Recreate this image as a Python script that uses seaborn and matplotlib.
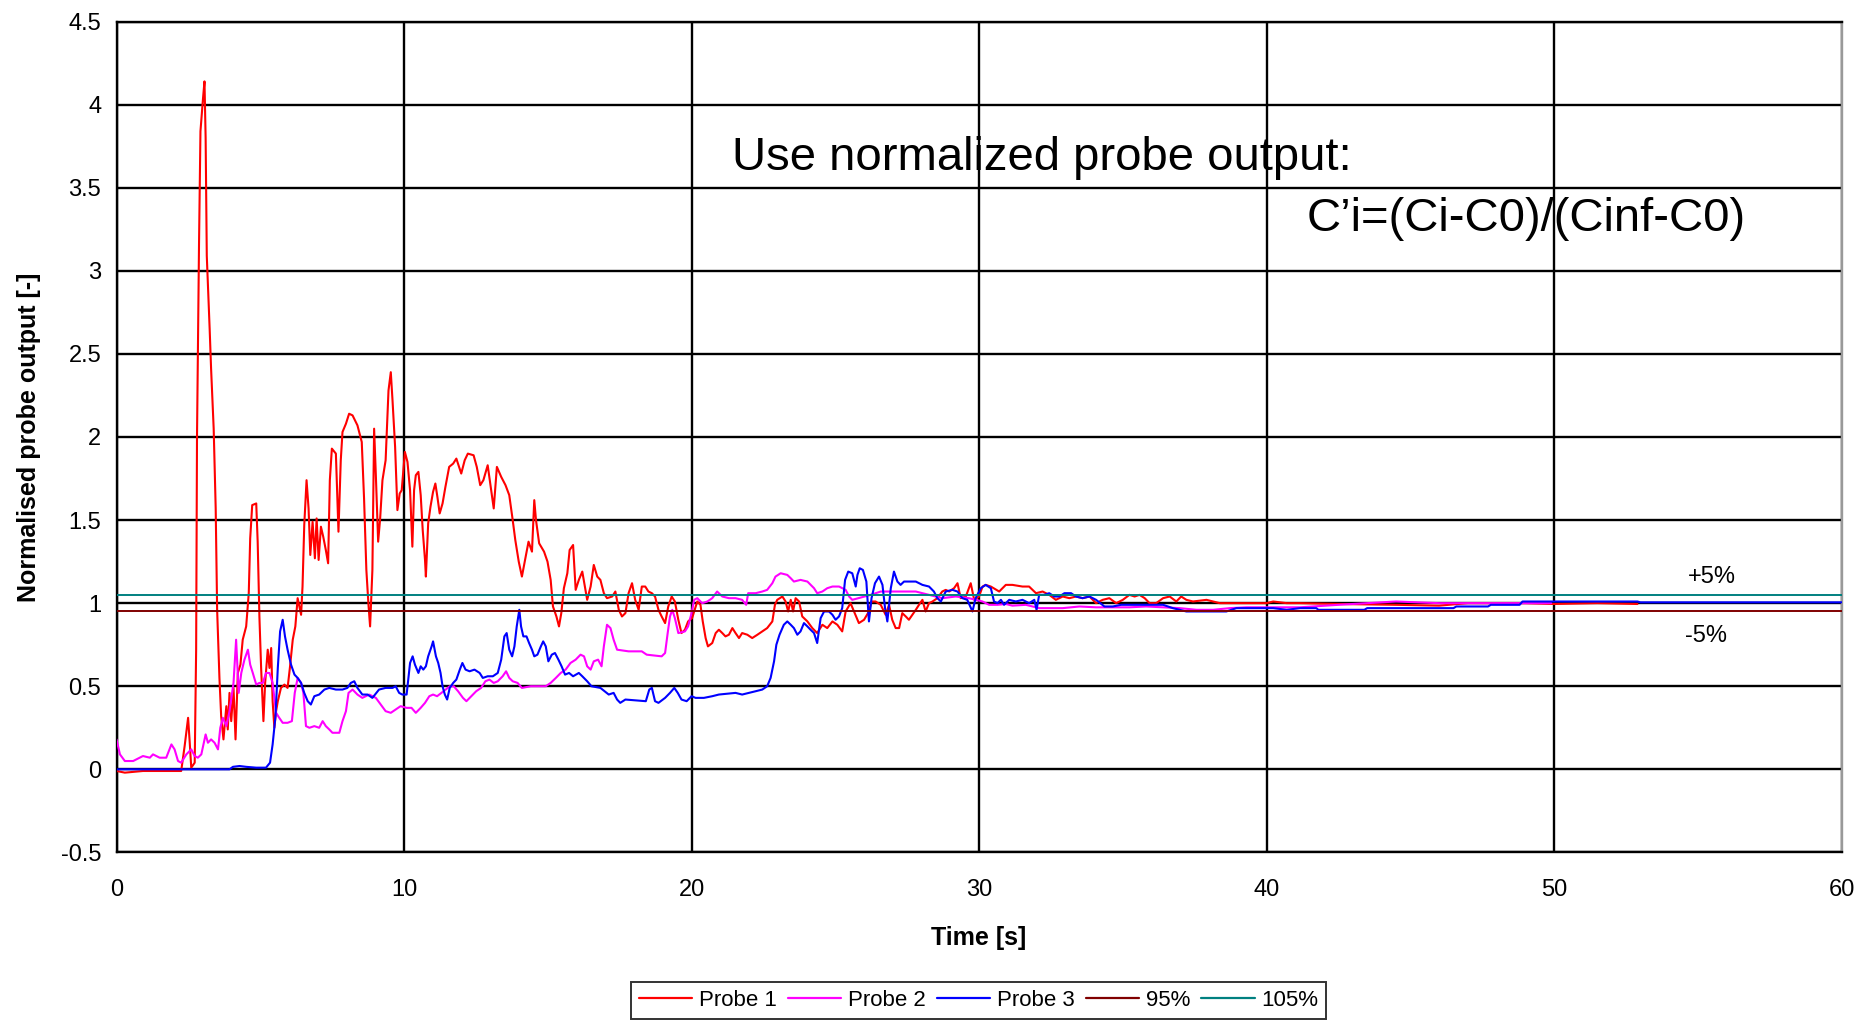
import numpy as np
import pandas as pd
import matplotlib
matplotlib.use("Agg")
import matplotlib.pyplot as plt
from matplotlib.lines import Line2D
from matplotlib import font_manager
import seaborn as sns

# ---------------- data ----------------
p1_t = [0, 0.29, 0.92, 1.50, 2.25, 2.37, 2.49, 2.54, 2.60, 2.72,
        2.77, 2.80, 2.87, 2.92, 3.01, 3.06, 3.10, 3.14, 3.24, 3.29,
        3.38, 3.45, 3.50, 3.58, 3.64, 3.72, 3.82, 3.87, 3.93, 3.99,
        4.07, 4.14, 4.22, 4.31, 4.39, 4.51, 4.60, 4.65, 4.72, 4.86,
        4.91, 4.97, 5.03, 5.11, 5.17, 5.26, 5.32, 5.38, 5.43, 5.49,
        5.55, 5.61, 5.72, 5.84, 5.95, 6.03, 6.13, 6.22, 6.30, 6.42,
        6.47, 6.53, 6.61, 6.68, 6.74, 6.82, 6.90, 6.96, 7.03, 7.11,
        7.19, 7.28, 7.36, 7.42, 7.49, 7.63, 7.72, 7.80, 7.86, 7.98,
        8.09, 8.21, 8.38, 8.53, 8.61, 8.69, 8.76, 8.82, 8.90, 8.96,
        9.02, 9.10, 9.17, 9.25, 9.36, 9.46, 9.54, 9.60, 9.69, 9.77,
        9.85, 9.92,
        10.03, 10.12, 10.21, 10.29, 10.35, 10.41, 10.50, 10.58, 10.65, 10.73,
        10.76, 10.84, 10.92, 11.01, 11.09, 11.16, 11.24, 11.34, 11.44, 11.57,
        11.71, 11.82, 11.99, 12.11, 12.22, 12.42, 12.53, 12.65, 12.76, 12.91,
        13.03, 13.12, 13.23, 13.38, 13.53, 13.66, 13.78, 13.87, 13.99, 14.10,
        14.22, 14.33, 14.45, 14.53, 14.59, 14.70, 14.87, 14.99, 15.10, 15.18,
        15.30, 15.39, 15.47, 15.56, 15.68, 15.76, 15.88, 15.97, 16.08, 16.20,
        16.29, 16.37, 16.49, 16.60, 16.72, 16.83, 16.95, 17.06, 17.24, 17.35,
        17.47, 17.58, 17.70, 17.81, 17.93, 18.04, 18.16, 18.27, 18.39, 18.50,
        18.62, 18.73, 18.85, 18.96, 19.08, 19.19, 19.31, 19.42, 19.54, 19.65,
        19.77, 19.88,
        20.02, 20.20, 20.31, 20.39, 20.49, 20.57, 20.72, 20.84, 20.95, 21.07,
        21.18, 21.30, 21.42, 21.53, 21.65, 21.76, 21.94, 22.11, 22.29, 22.46,
        22.63, 22.81, 22.90, 22.98, 23.16, 23.27, 23.36, 23.45, 23.53, 23.62,
        23.74, 23.85, 24.03, 24.20, 24.37, 24.55, 24.72, 24.90, 25.07, 25.24,
        25.36, 25.53, 25.65, 25.82, 26.00, 26.17, 26.26, 26.40, 26.58, 26.75,
        26.87, 26.98, 27.10, 27.22, 27.33, 27.45, 27.56, 27.68, 27.80, 27.91,
        28.03, 28.14, 28.26, 28.38, 28.55, 28.72, 28.84, 28.96, 29.13, 29.25,
        29.36, 29.54, 29.71, 29.83, 30.00, 30.12, 30.23, 30.41,
        30.70, 30.93, 31.16, 31.51, 31.74, 31.98, 32.21, 32.44, 32.67, 32.91,
        33.14, 33.37, 33.60, 33.84, 34.07, 34.30, 34.53, 34.77, 35.00, 35.23,
        35.41, 35.58, 35.76, 35.93, 36.16, 36.40, 36.63, 36.86, 37.03, 37.21,
        37.44, 37.91, 38.14, 38.37, 38.84, 39.30, 39.65, 40.00, 40.23, 40.70,
        41.16, 42.5, 44.5, 46.0, 47.0, 49.0, 50.0, 51.5, 52.9]
p1_v = [-0.01, -0.02, -0.01, -0.01, -0.01, 0.14, 0.31, 0.18, 0.01, 0.04,
        0.72, 2.00, 3.16, 3.84, 4.04, 4.14, 3.80, 3.09, 2.65, 2.41,
        2.05, 1.57, 0.96, 0.55, 0.32, 0.18, 0.38, 0.24, 0.46, 0.29,
        0.49, 0.18, 0.58, 0.63, 0.78, 0.86, 1.06, 1.39, 1.59, 1.60,
        1.37, 0.92, 0.61, 0.29, 0.52, 0.72, 0.61, 0.73, 0.41, 0.25,
        0.35, 0.41, 0.49, 0.51, 0.49, 0.61, 0.78, 0.86, 1.03, 0.93,
        1.10, 1.47, 1.74, 1.57, 1.29, 1.49, 1.27, 1.51, 1.26, 1.46,
        1.40, 1.32, 1.24, 1.74, 1.93, 1.90, 1.43, 1.86, 2.03, 2.08,
        2.14, 2.13, 2.07, 1.97, 1.63, 1.20, 1.00, 0.86, 1.20, 2.05,
        1.77, 1.37, 1.51, 1.74, 1.86, 2.28, 2.39, 2.22, 1.94, 1.56,
        1.66, 1.68,
        1.91, 1.85, 1.68, 1.34, 1.68, 1.77, 1.79, 1.65, 1.44, 1.26,
        1.16, 1.48, 1.58, 1.67, 1.72, 1.64, 1.54, 1.60, 1.70, 1.82,
        1.84, 1.87, 1.78, 1.86, 1.90, 1.89, 1.82, 1.71, 1.74, 1.83,
        1.68, 1.57, 1.82, 1.76, 1.71, 1.65, 1.50, 1.38, 1.25, 1.16,
        1.27, 1.37, 1.31, 1.62, 1.50, 1.36, 1.31, 1.25, 1.14, 0.98,
        0.92, 0.86, 0.94, 1.09, 1.18, 1.32, 1.35, 1.08, 1.14, 1.19,
        1.10, 1.02, 1.10, 1.23, 1.16, 1.14, 1.06, 1.03, 1.04, 1.07,
        0.96, 0.92, 0.94, 1.06, 1.12, 1.02, 0.96, 1.10, 1.10, 1.07,
        1.06, 1.04, 0.96, 0.92, 0.88, 0.98, 1.04, 1.01, 0.90, 0.82,
        0.84, 0.89,
        0.91, 1.01, 0.99, 0.89, 0.79, 0.74, 0.76, 0.82, 0.84, 0.82,
        0.80, 0.81, 0.85, 0.82, 0.79, 0.82, 0.81, 0.79, 0.81, 0.83,
        0.85, 0.89, 0.99, 1.02, 1.04, 1.01, 0.95, 1.02, 0.95, 1.03,
        1.01, 0.92, 0.89, 0.85, 0.82, 0.87, 0.85, 0.89, 0.87, 0.83,
        0.95, 1.00, 0.95, 0.88, 0.90, 0.95, 1.01, 1.01, 0.99, 0.93,
        0.99, 0.90, 0.85, 0.85, 0.94, 0.92, 0.90, 0.93, 0.96, 0.99,
        1.02, 0.95, 1.00, 1.01, 1.03, 1.07, 1.08, 1.07, 1.09, 1.12,
        1.03, 1.04, 1.12, 1.02, 1.04, 1.10, 1.11, 1.10,
        1.07, 1.11, 1.11, 1.10, 1.10, 1.06, 1.07, 1.05, 1.02, 1.04,
        1.03, 1.04, 1.03, 1.04, 1.00, 1.02, 1.03, 1.00, 1.02, 1.05,
        1.04, 1.05, 1.03, 1.00, 1.00, 1.03, 1.04, 1.01, 1.04, 1.02,
        1.01, 1.02, 1.01, 1.00, 1.00, 1.00, 1.00, 1.00, 1.01, 1.00,
        1.00, 0.995, 0.99, 0.985, 1.00, 1.00, 0.995, 1.00, 0.995]

p2_t = [0, 0.12, 0.29, 0.58, 0.81, 0.92, 1.16, 1.27, 1.50, 1.73,
        1.91, 2.02, 2.14, 2.25, 2.43, 2.60, 2.72, 2.83, 2.95, 3.10,
        3.18, 3.29, 3.41, 3.53, 3.61, 3.70, 3.82, 3.93, 4.07, 4.16,
        4.25, 4.34, 4.45, 4.57, 4.65, 4.74, 4.86, 4.97, 5.09, 5.20,
        5.32, 5.43, 5.55, 5.66, 5.78, 5.95, 6.10, 6.20, 6.30, 6.42,
        6.50, 6.59, 6.71, 6.88, 7.05, 7.17, 7.28, 7.40, 7.51, 7.75,
        7.86, 7.98, 8.07, 8.21, 8.38, 8.55, 8.79, 9.02, 9.19, 9.36,
        9.54, 9.71, 9.88,
        10.09, 10.26, 10.41, 10.58, 10.73, 10.88, 11.01, 11.15, 11.30, 11.45,
        11.59, 11.73, 11.88, 12.05, 12.17, 12.34, 12.51, 12.68, 12.83, 12.97,
        13.12, 13.26, 13.43, 13.55, 13.66, 13.78, 13.95, 14.10, 14.41, 14.93,
        15.10, 15.28, 15.45, 15.62, 15.79, 15.97, 16.14, 16.26, 16.37, 16.49,
        16.60, 16.75, 16.87, 16.95, 17.06, 17.18, 17.29, 17.41, 17.81, 18.27,
        18.44, 18.96, 19.08, 19.17, 19.25, 19.33, 19.42, 19.54, 19.77, 19.88,
        20.00, 20.09,
        20.20, 20.37, 20.55, 20.72, 20.89, 21.07, 21.30, 21.53, 21.76, 21.90,
        21.97, 22.23, 22.46, 22.63, 22.81, 22.92, 23.10, 23.33, 23.45, 23.56,
        23.79, 24.03, 24.26, 24.37, 24.55, 24.72, 24.90, 25.13, 25.36, 25.48,
        25.59, 26.23, 26.58, 27.33, 27.80, 28.26, 28.72, 29.19, 29.65, 30.12,
        30.35, 30.64,
        30.93, 31.16, 31.63, 31.98, 32.09, 32.91, 33.49, 34.07, 34.65, 35.23,
        35.81, 36.40, 36.98, 37.56, 38.14, 38.72, 39.30, 39.88, 40.47, 41.16,
        42.5, 44.5, 46.0, 48.0, 49.9]
p2_v = [0.18, 0.09, 0.05, 0.05, 0.07, 0.08, 0.07, 0.09, 0.07, 0.07,
        0.15, 0.12, 0.05, 0.04, 0.09, 0.12, 0.08, 0.07, 0.09, 0.21,
        0.16, 0.18, 0.16, 0.12, 0.25, 0.31, 0.26, 0.35, 0.52, 0.78,
        0.46, 0.58, 0.66, 0.72, 0.63, 0.58, 0.51, 0.52, 0.52, 0.58,
        0.58, 0.52, 0.34, 0.31, 0.28, 0.28, 0.29, 0.46, 0.55, 0.52,
        0.46, 0.26, 0.25, 0.26, 0.25, 0.29, 0.26, 0.24, 0.22, 0.22,
        0.29, 0.35, 0.46, 0.48, 0.45, 0.43, 0.45, 0.43, 0.39, 0.35,
        0.34, 0.36, 0.38,
        0.37, 0.37, 0.34, 0.37, 0.40, 0.44, 0.45, 0.44, 0.46, 0.48,
        0.50, 0.50, 0.47, 0.43, 0.41, 0.44, 0.47, 0.49, 0.53, 0.54,
        0.52, 0.53, 0.56, 0.59, 0.55, 0.53, 0.52, 0.49, 0.50, 0.50,
        0.52, 0.55, 0.58, 0.60, 0.64, 0.66, 0.69, 0.68, 0.62, 0.60,
        0.65, 0.66, 0.62, 0.74, 0.87, 0.85, 0.78, 0.72, 0.71, 0.71,
        0.69, 0.68, 0.70, 0.82, 0.92, 0.96, 0.91, 0.82, 0.83, 0.86,
        0.94, 1.02,
        1.03, 1.00, 1.01, 1.03, 1.07, 1.04, 1.03, 1.03, 1.02, 0.99,
        1.06, 1.06, 1.07, 1.08, 1.12, 1.16, 1.18, 1.17, 1.15, 1.13,
        1.14, 1.13, 1.09, 1.06, 1.07, 1.09, 1.10, 1.10, 1.08, 1.04,
        1.02, 1.05, 1.07, 1.07, 1.07, 1.05, 1.03, 1.04, 1.03, 1.01,
        0.99, 0.99,
        0.995, 0.985, 0.99, 0.975, 0.97, 0.97, 0.98, 0.975, 0.975, 0.975,
        0.98, 0.975, 0.97, 0.96, 0.96, 0.97, 0.975, 0.975, 0.975, 0.975,
        0.99, 1.01, 1.00, 1.00, 1.00]

p3_t = [0, 2.31, 3.93, 4.05, 4.28, 4.51, 4.86, 5.20, 5.34, 5.43,
        5.53, 5.61, 5.69, 5.78, 5.86, 5.95, 6.07, 6.19, 6.30, 6.42,
        6.53, 6.65, 6.76, 6.88, 7.05, 7.23, 7.40, 7.63, 7.86, 8.03,
        8.15, 8.27, 8.38, 8.55, 8.73, 8.90, 9.13, 9.36, 9.60, 9.71,
        9.83, 9.94,
        10.09, 10.21, 10.30, 10.38, 10.50, 10.58, 10.67, 10.76, 10.84, 10.96,
        11.01, 11.11, 11.19, 11.27, 11.34, 11.42, 11.50, 11.59, 11.71, 11.82,
        11.94, 12.03, 12.14, 12.28, 12.45, 12.63, 12.74, 12.91, 13.09, 13.26,
        13.38, 13.49, 13.57, 13.66, 13.76, 13.84, 13.92, 14.01, 14.07, 14.15,
        14.26, 14.35, 14.45, 14.53, 14.64, 14.76, 14.84, 14.93, 15.02, 15.14,
        15.25, 15.37, 15.48, 15.60, 15.74, 15.88, 16.08, 16.20, 16.37, 16.52,
        16.83, 17.12, 17.29, 17.41, 17.52, 17.70, 18.41, 18.53, 18.62, 18.73,
        18.85, 19.08, 19.25, 19.40, 19.52, 19.65, 19.83, 20.00,
        20.14, 20.43, 20.72, 20.95, 21.53, 21.76, 22.00, 22.23, 22.46, 22.63,
        22.75, 22.87, 22.95, 23.06, 23.21, 23.33, 23.45, 23.56, 23.68, 23.79,
        23.91, 24.03, 24.14, 24.26, 24.37, 24.49, 24.61, 24.78, 24.90, 25.01,
        25.13, 25.24, 25.34, 25.45, 25.59, 25.71, 25.77, 25.85, 25.96, 26.08,
        26.17, 26.26, 26.38, 26.52, 26.64, 26.73, 26.81, 26.93, 27.04, 27.16,
        27.27, 27.39, 27.80, 28.03, 28.26, 28.43, 28.55, 28.67, 28.84, 29.07,
        29.25, 29.42, 29.59, 29.77, 29.88, 30.06, 30.23, 30.41,
        30.52, 30.64, 30.76, 30.87, 31.05, 31.28, 31.51, 31.74, 31.92, 32.00,
        32.09, 32.27, 32.44, 32.62, 32.79, 32.97, 33.20, 33.37, 33.60, 33.84,
        34.07, 34.36, 34.65, 34.94, 35.81, 36.40, 36.74, 37.21, 38.60, 38.95,
        39.88, 40.23, 40.70, 41.16, 41.73, 41.80, 43.40, 43.50, 46.50, 46.60,
        47.70, 47.80, 48.80, 48.90, 52.90, 53.00, 60.00]
p3_v = [0.00, 0.00, 0.00, 0.015, 0.02, 0.015, 0.01, 0.01, 0.04, 0.15,
        0.32, 0.61, 0.83, 0.90, 0.80, 0.72, 0.63, 0.57, 0.55, 0.52,
        0.46, 0.41, 0.39, 0.44, 0.45, 0.48, 0.49, 0.48, 0.48, 0.49,
        0.52, 0.53, 0.49, 0.45, 0.45, 0.43, 0.48, 0.49, 0.49, 0.50,
        0.46, 0.45,
        0.45, 0.64, 0.68, 0.63, 0.58, 0.62, 0.60, 0.62, 0.68, 0.74,
        0.77, 0.68, 0.64, 0.58, 0.50, 0.45, 0.42, 0.49, 0.52, 0.54,
        0.60, 0.64, 0.60, 0.59, 0.60, 0.58, 0.55, 0.56, 0.56, 0.58,
        0.66, 0.80, 0.82, 0.72, 0.68, 0.74, 0.86, 0.96, 0.86, 0.80,
        0.80, 0.76, 0.72, 0.68, 0.69, 0.74, 0.77, 0.74, 0.65, 0.69,
        0.70, 0.66, 0.62, 0.57, 0.58, 0.56, 0.58, 0.56, 0.53, 0.50,
        0.49, 0.45, 0.46, 0.42, 0.40, 0.42, 0.41, 0.48, 0.49, 0.41,
        0.40, 0.43, 0.46, 0.49, 0.46, 0.42, 0.41, 0.44,
        0.43, 0.43, 0.44, 0.45, 0.46, 0.45, 0.46, 0.47, 0.48, 0.50,
        0.55, 0.65, 0.75, 0.81, 0.87, 0.89, 0.87, 0.85, 0.81, 0.83,
        0.88, 0.86, 0.84, 0.82, 0.76, 0.91, 0.95, 0.95, 0.93, 0.90,
        0.92, 0.97, 1.14, 1.19, 1.18, 1.10, 1.17, 1.21, 1.20, 1.13,
        0.89, 1.03, 1.12, 1.16, 1.11, 0.97, 0.89, 1.09, 1.19, 1.13,
        1.11, 1.13, 1.13, 1.11, 1.10, 1.07, 1.03, 1.01, 1.07, 1.08,
        1.07, 1.03, 1.02, 0.95, 1.03, 1.09, 1.11, 1.09,
        1.01, 1.00, 1.02, 0.99, 1.02, 1.01, 1.02, 1.00, 1.02, 0.96,
        1.05, 1.05, 1.06, 1.04, 1.04, 1.06, 1.06, 1.04, 1.03, 1.04,
        1.02, 0.98, 0.98, 0.99, 0.99, 0.99, 0.97, 0.95, 0.95, 0.97,
        0.97, 0.97, 0.96, 0.97, 0.97, 0.96, 0.96, 0.97, 0.97, 0.98,
        0.98, 0.99, 0.99, 1.01, 1.01, 1.005, 1.005]

ref_t = [0, 60]
ref_95 = [0.95, 0.95]
ref_105 = [1.05, 1.05]

series_names = ["Probe 1", "Probe 2", "Probe 3", "95%", "105%"]
series_colors = ["#FF0000", "#FF00FF", "#0000FF", "#800000", "#008080"]

x_ticks = [0, 10, 20, 30, 40, 50, 60]
y_ticks = [-0.5, 0, 0.5, 1, 1.5, 2, 2.5, 3, 3.5, 4, 4.5]
y_tick_labels = ["-0.5", "0", "0.5", "1", "1.5", "2", "2.5", "3", "3.5", "4", "4.5"]

# ---------------- build long-form table ----------------
frames = []
for name, t, v in zip(series_names,
                      [p1_t, p2_t, p3_t, ref_t, ref_t],
                      [p1_v, p2_v, p3_v, ref_95, ref_105]):
    frames.append(pd.DataFrame({"t": t, "v": v, "series": name}))
df = pd.concat(frames, ignore_index=True)

# ---------------- style ----------------
sns.set_style("white")
avail = {f.name for f in font_manager.fontManager.ttflist}
fam = ["Liberation Sans Narrow", "Liberation Sans", "DejaVu Sans"]
fam = [f for f in fam if f in avail] or ["DejaVu Sans"]
plt.rcParams["font.family"] = fam
plt.rcParams["text.color"] = "black"
plt.rcParams["axes.labelcolor"] = "black"
plt.rcParams["xtick.color"] = "black"
plt.rcParams["ytick.color"] = "black"

fig = plt.figure(figsize=(18.64, 10.27), dpi=100)
ax = fig.add_axes([0.0625, 0.170, 0.9255, 0.809])

palette = dict(zip(series_names, series_colors))
for name in series_names:
    sub = df[df["series"] == name]
    lw = 1.5 if name.startswith("Probe") else 1.4
    sns.lineplot(data=sub, x="t", y="v", color=palette[name], lw=lw,
                 estimator=None, sort=False, ax=ax, legend=False, zorder=3)

ax.set_xlim(0, 60)
ax.set_ylim(-0.5, 4.5)
ax.set_xticks(x_ticks)
ax.set_xticklabels([str(x) for x in x_ticks])
ax.set_yticks(y_ticks)
ax.set_yticklabels(y_tick_labels)
ax.grid(True, color="black", lw=1.7, zorder=0)
ax.set_axisbelow(True)
ax.tick_params(axis="both", direction="out", length=7, width=1.4,
               color="black", labelsize=17, labelcolor="black")
ax.tick_params(axis="x", pad=12)
ax.tick_params(axis="y", pad=4)
for side in ["left", "bottom", "top"]:
    ax.spines[side].set_color("black")
    ax.spines[side].set_linewidth(1.7)
ax.spines["right"].set_color("#999999")
ax.spines["right"].set_linewidth(1.7)

ax.set_xlabel("Time [s]", fontsize=18, fontweight="bold", labelpad=18,
              color="black")
ax.set_ylabel("Normalised probe output [-]", fontsize=18, fontweight="bold",
              labelpad=14, color="black")

ax.text(21.4, 3.68, "Use normalized probe output:", fontsize=34,
        ha="left", va="center", color="black",
        family=["Liberation Sans", "DejaVu Sans"])
ax.text(41.4, 3.31, "C\u2019i=(Ci-C0)/(Cinf-C0)", fontsize=34,
        ha="left", va="center", color="black",
        family=["Liberation Sans", "DejaVu Sans"])
ax.text(55.5, 1.16, "+5%", fontsize=17, ha="center", va="center", color="black")
ax.text(55.3, 0.80, "-5%", fontsize=17, ha="center", va="center", color="black")

handles = [Line2D([0], [0], color=c, lw=1.6) for c in series_colors]
leg = fig.legend(handles, series_names, loc="lower center",
                 bbox_to_anchor=(0.525, -0.003), ncol=5, frameon=True,
                 fancybox=False, edgecolor="black", fontsize=16,
                 handlelength=2.4, handletextpad=0.3, columnspacing=0.5,
                 borderpad=0.35, labelcolor="black")
leg.get_frame().set_linewidth(1.4)

fig.savefig("out.png", dpi=100, facecolor="white")
